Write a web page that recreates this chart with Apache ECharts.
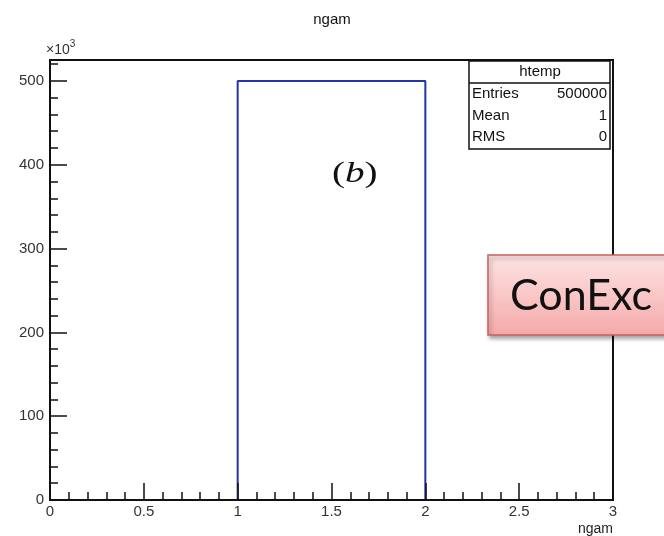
<!DOCTYPE html>
<html><head><meta charset="utf-8">
<script src="https://cdn.jsdelivr.net/npm/echarts@6/dist/echarts.min.js"></script>
<style>html,body{margin:0;padding:0;background:#fff}#c{width:664px;height:536px}</style>
</head><body><div id="c"></div>
<script>
// Histogram data (counts in units of 10^3)
const binEdges = [0, 1, 2, 3];
const binCounts = [0, 500, 0];
const xTicks = [0, 0.5, 1, 1.5, 2, 2.5, 3];
const yTicks = [0, 100, 200, 300, 400, 500];
const statsLabels = ['Entries', 'Mean', 'RMS'];
const statsValues = ['500000', '1', '0'];
const histName = 'htemp';
const titleText = 'ngam';
const xTitle = 'ngam';
const yMax = 525;

const FONT = '"Liberation Sans Narrow","Liberation Sans",Arial,sans-serif';

// build outline of the non-empty bins
const outline = [];
for (let i = 0; i < binCounts.length; i++) {
  if (binCounts[i] > 0) {
    outline.push([binEdges[i], 0], [binEdges[i], binCounts[i]], [binEdges[i+1], binCounts[i]], [binEdges[i+1], 0]);
  }
}

const chart = echarts.init(document.getElementById('c'), null, {renderer: 'canvas'});
const graphic = [
  {type:'text', left:'center', top:12, style:{text:titleText, font:'15px '+FONT, fill:'#111'}},
  {type:'text', left:46, top:39, style:{text:'{a|×10}{s|3}', rich:{a:{font:'14px '+FONT, fill:'#333', verticalAlign:'bottom'}, s:{font:'10px '+FONT, fill:'#333', verticalAlign:'top', padding:[0,0,8,0]}}}},
  // stats box
  {type:'rect', shape:{x:469, y:61, width:141, height:88}, style:{fill:'#fff', stroke:'#111', lineWidth:1.5}, z:20},
  {type:'line', shape:{x1:469, y1:83, x2:610, y2:83}, style:{stroke:'#111', lineWidth:1.5}, z:21},
  {type:'text', x:540, y:72, style:{text:histName, font:'15px '+FONT, fill:'#111', textAlign:'center', textVerticalAlign:'middle'}, z:21},
  {type:'text', x:472, y:94, style:{text:statsLabels[0], font:'15px '+FONT, fill:'#111', textVerticalAlign:'middle'}, z:21},
  {type:'text', x:607, y:94, style:{text:statsValues[0], font:'15px '+FONT, fill:'#111', textAlign:'right', textVerticalAlign:'middle'}, z:21},
  {type:'text', x:472, y:116, style:{text:statsLabels[1], font:'15px '+FONT, fill:'#111', textVerticalAlign:'middle'}, z:21},
  {type:'text', x:607, y:116, style:{text:statsValues[1], font:'15px '+FONT, fill:'#111', textAlign:'right', textVerticalAlign:'middle'}, z:21},
  {type:'text', x:472, y:137, style:{text:statsLabels[2], font:'15px '+FONT, fill:'#111', textVerticalAlign:'middle'}, z:21},
  {type:'text', x:607, y:137, style:{text:statsValues[2], font:'15px '+FONT, fill:'#111', textAlign:'right', textVerticalAlign:'middle'}, z:21},
  // (b) annotation
  {type:'text', x:332, y:174, scaleX:1.35, style:{text:'{n|(}{i|b}{n|)}', textVerticalAlign:'middle', rich:{n:{font:'29px "Liberation Serif","Times New Roman",serif', fill:'#111'}, i:{font:'italic 29px "Liberation Serif","Times New Roman",serif', fill:'#111'}}}, z:21},
  // ConExc box
  {type:'rect', shape:{x:488, y:255, width:190, height:80}, style:{
     fill:{type:'linear', x:0, y:0, x2:0, y2:1, colorStops:[{offset:0, color:'#fee4e4'},{offset:1, color:'#f5a9a9'}]},
     stroke:'#c9605c', lineWidth:1.5, shadowBlur:4, shadowOffsetX:2, shadowOffsetY:3, shadowColor:'rgba(0,0,0,0.35)'}, z:30},
  {type:'text', x:510, y:296, style:{text:'ConExc', font:'43px Lato,"Liberation Sans",sans-serif', fill:'#111', textVerticalAlign:'middle'}, z:31}
];

chart.setOption({
  animation:false,
  grid:{left:50, right:51, top:60, bottom:35, show:true, borderColor:'#111', borderWidth:2, backgroundColor:'transparent'},
  xAxis:{type:'value', min:binEdges[0], max:binEdges[binEdges.length-1], interval:0.5, z:10,
    name:xTitle, nameLocation:'end', nameGap:0,
    nameTextStyle:{fontFamily:FONT, fontSize:14, color:'#222', align:'right', verticalAlign:'top', padding:[22,0,0,0]},
    axisLine:{show:true, lineStyle:{color:'#111', width:2}},
    axisTick:{show:true, inside:true, length:17, lineStyle:{color:'#111', width:1.5}},
    minorTick:{show:true, splitNumber:5, length:8, lineStyle:{color:'#111', width:1.5}},
    splitLine:{show:false},
    axisLabel:{fontFamily:FONT, fontSize:15, color:'#333', margin:4,
      formatter:v => xTicks.indexOf(+v.toFixed(2)) >= 0 ? String(+v.toFixed(2)) : ''}},
  yAxis:{type:'value', min:0, max:yMax, interval:100, z:10,
    axisLine:{show:true, lineStyle:{color:'#111', width:2}},
    axisTick:{show:true, inside:true, length:17, lineStyle:{color:'#111', width:1.5}},
    minorTick:{show:true, splitNumber:5, length:8, lineStyle:{color:'#111', width:1.5}},
    splitLine:{show:false},
    axisLabel:{fontFamily:FONT, fontSize:15, color:'#333', margin:6, showMaxLabel:false,
      formatter:v => yTicks.indexOf(v) >= 0 ? String(v) : ''}},
  series:[{type:'line', data:outline, showSymbol:false, symbol:'none', z:2,
    lineStyle:{color:'#2533a8', width:2}}],
  graphic:graphic
});
</script></body></html>
